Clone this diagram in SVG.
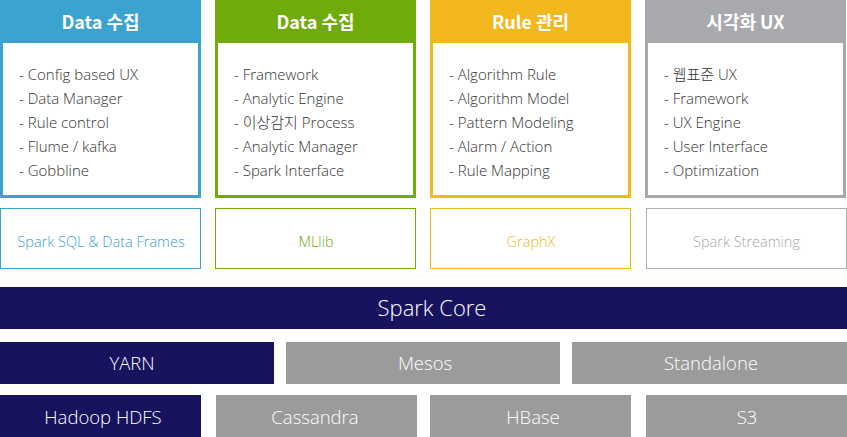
<svg xmlns="http://www.w3.org/2000/svg" width="847" height="437" viewBox="0 0 847 437">
<style>
.hd{font-family:"Noto Sans CJK KR","Noto Sans",sans-serif;font-weight:700;font-size:18px;fill:#fff;text-anchor:middle}
.it{font-family:"Open Sans","Noto Sans CJK KR",sans-serif;font-weight:300;font-size:15px;fill:#333}
.lib{font-family:"Open Sans",sans-serif;font-weight:300;font-size:14.5px;text-anchor:middle}
.bar{font-family:"Open Sans",sans-serif;font-weight:300;fill:#fff;text-anchor:middle}
</style>
<g id="box-data1">
<rect x="1.5" y="1.5" width="198" height="195" fill="#fff" stroke="#3aa3cf" stroke-width="3"/>
<rect x="0" y="0" width="201" height="43" fill="#3aa3cf"/>
<text class="hd" x="100.5" y="29">Data 수집</text>
<text class="it" x="19" y="80">- Config based UX</text>
<text class="it" x="19" y="104">- Data Manager</text>
<text class="it" x="19" y="128">- Rule control</text>
<text class="it" x="19" y="152">- Flume / kafka</text>
<text class="it" x="19" y="176">- Gobbline</text>
</g>
<g id="box-data2">
<rect x="216.5" y="1.5" width="198" height="195" fill="#fff" stroke="#6fab0a" stroke-width="3"/>
<rect x="215" y="0" width="201" height="43" fill="#6fab0a"/>
<text class="hd" x="315.5" y="29">Data 수집</text>
<text class="it" x="234" y="80">- Framework</text>
<text class="it" x="234" y="104">- Analytic Engine</text>
<text class="it" x="234" y="128">- 이상감지 Process</text>
<text class="it" x="234" y="152">- Analytic Manager</text>
<text class="it" x="234" y="176">- Spark Interface</text>
</g>
<g id="box-rule">
<rect x="431.5" y="1.5" width="198" height="195" fill="#fff" stroke="#f2b81c" stroke-width="3"/>
<rect x="430" y="0" width="201" height="43" fill="#f2b81c"/>
<text class="hd" x="530.5" y="29">Rule 관리</text>
<text class="it" x="449" y="80">- Algorithm Rule</text>
<text class="it" x="449" y="104">- Algorithm Model</text>
<text class="it" x="449" y="128">- Pattern Modeling</text>
<text class="it" x="449" y="152">- Alarm / Action</text>
<text class="it" x="449" y="176">- Rule Mapping</text>
</g>
<g id="box-ux">
<rect x="646.5" y="1.5" width="198" height="195" fill="#fff" stroke="#a7a9ac" stroke-width="3"/>
<rect x="645" y="0" width="201" height="43" fill="#a7a9ac"/>
<text class="hd" x="745.5" y="29">시각화 UX</text>
<text class="it" x="664" y="80">- 웹표준 UX</text>
<text class="it" x="664" y="104">- Framework</text>
<text class="it" x="664" y="128">- UX Engine</text>
<text class="it" x="664" y="152">- User Interface</text>
<text class="it" x="664" y="176">- Optimization</text>
</g>
<g id="lib-sql">
<rect x="0.5" y="208.5" width="200" height="60" fill="#fff" stroke="#3aa3cf"/>
<text class="lib" x="101" y="246.5" fill="#3aa3cf">Spark SQL &amp; Data Frames</text>
</g>
<g id="lib-mllib">
<rect x="215.5" y="208.5" width="200" height="60" fill="#fff" stroke="#6fab0a"/>
<text class="lib" x="316" y="246.5" fill="#6fab0a">MLlib</text>
</g>
<g id="lib-graphx">
<rect x="430.5" y="208.5" width="200" height="60" fill="#fff" stroke="#f2b81c"/>
<text class="lib" x="531" y="246.5" fill="#f2b81c">GraphX</text>
</g>
<g id="lib-streaming">
<rect x="646.5" y="208.5" width="200" height="60" fill="#fff" stroke="#b0b0b0"/>
<text class="lib" x="746.5" y="246.5" fill="#a7a9ac">Spark Streaming</text>
</g>
<g id="spark-core">
<rect x="0" y="287" width="847" height="42" fill="#17135f"/>
<text class="bar" x="432" y="316" font-size="22">Spark Core</text>
</g>
<g id="yarn">
<rect x="0" y="342" width="274" height="42" fill="#17135f"/>
<text class="bar" x="132" y="370" font-size="18.5">YARN</text>
</g>
<g id="mesos">
<rect x="286" y="342" width="274" height="42" fill="#9b9b9b"/>
<text class="bar" x="425" y="370" font-size="18.5">Mesos</text>
</g>
<g id="standalone">
<rect x="572" y="342" width="275" height="42" fill="#9b9b9b"/>
<text class="bar" x="711" y="370" font-size="18.5">Standalone</text>
</g>
<g id="hdfs">
<rect x="0" y="395" width="201" height="42" fill="#17135f"/>
<text class="bar" x="103" y="424" font-size="18.5">Hadoop HDFS</text>
</g>
<g id="cassandra">
<rect x="216" y="395" width="201" height="42" fill="#9b9b9b"/>
<text class="bar" x="315" y="424" font-size="18.5">Cassandra</text>
</g>
<g id="hbase">
<rect x="430" y="395" width="201" height="42" fill="#9b9b9b"/>
<text class="bar" x="533" y="424" font-size="18.5">HBase</text>
</g>
<g id="s3">
<rect x="646" y="395" width="201" height="42" fill="#9b9b9b"/>
<text class="bar" x="747" y="424" font-size="18.5">S3</text>
</g>
<g id="connectors"/>
</svg>
